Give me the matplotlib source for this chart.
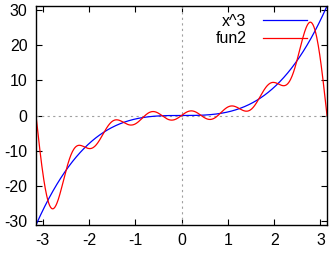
import numpy as np
import matplotlib
matplotlib.use("Agg")
import matplotlib.pyplot as plt

# Data
x_range = (-np.pi, np.pi)
n_terms = 7            # number of Fourier terms in fun2
x_ticks = [-3, -2, -1, 0, 1, 2, 3]
y_ticks = [-30, -20, -10, 0, 10, 20, 30]
labels = ["x^3", "fun2"]

plt.rcParams['font.family'] = ['Liberation Sans', 'DejaVu Sans']
plt.rcParams['axes.unicode_minus'] = False

x = np.linspace(x_range[0], x_range[1], 600)
cube = x ** 3
fun2 = np.zeros_like(x)
for n in range(1, n_terms + 1):
    bn = 2 * (-1) ** (n + 1) * (np.pi ** 2 / n - 6 / n ** 3)
    fun2 += bn * np.sin(n * x)

fig = plt.figure(figsize=(3.33, 2.54), dpi=100)
ax = fig.add_axes([36 / 333, 29 / 254, 291 / 333, 219 / 254])

ax.axhline(0, color='#a0a0a0', lw=0.8, ls=(0, (2, 3)))
ax.axvline(0, color='#a0a0a0', lw=0.8, ls=(0, (2, 3)))
ax.plot(x, cube, color='blue', lw=0.9, label=labels[0])
ax.plot(x, fun2, color='red', lw=0.9, label=labels[1])

ax.set_xlim(x_range)
ax.set_ylim(-np.pi ** 3, np.pi ** 3)
ax.set_xticks(x_ticks)
ax.set_yticks(y_ticks)
ax.tick_params(direction='in', top=True, right=True, length=4, width=0.8,
               labelsize=11.5, pad=6)
for s in ax.spines.values():
    s.set_linewidth(1.0)

ax.legend(loc='upper right', bbox_to_anchor=(0.96, 1.0), frameon=False,
          markerfirst=False, fontsize=11.5, handlelength=2.8,
          handletextpad=1.0, labelspacing=0.15, borderaxespad=0.1)

fig.savefig("out.png", dpi=100)
